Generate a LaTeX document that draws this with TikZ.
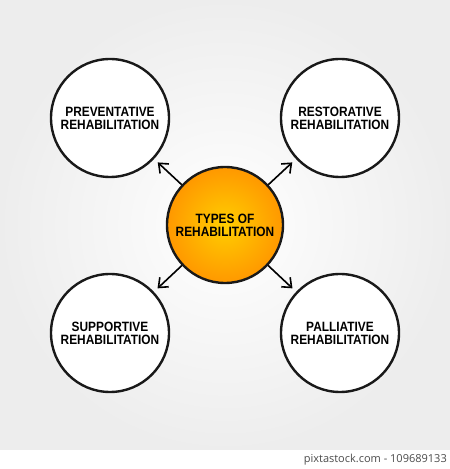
\documentclass[tikz,border=0pt]{standalone}
\usepackage{fontspec}
\usepackage{tikz}
\usetikzlibrary{arrows.meta}
\newfontfamily\handfont[FakeStretch=0.88]{Liberation Sans}
\newfontfamily\markfont{Open Sans}
\definecolor{hubin}{RGB}{255,206,0}
\definecolor{hubout}{RGB}{255,152,0}

\begin{document}
\begin{tikzpicture}[x=1pt,y=1pt]
      \tikzset{>={Straight Barb[length=8pt,width=13pt,line width=1.6pt]}}
      \tikzset{topic/.style={shape=circle,draw=black!90,line width=2.4pt,fill=white,minimum size=118pt,inner sep=0pt,align=center,font=\handfont\bfseries\fontsize{13.5}{13}\selectfont}}

      % background and bottom strip
      \useasboundingbox (0,0) rectangle (450,469);
      \fill[white] (0,0) rectangle (450,19);
      \shade[inner color=white,outer color=black!7] (0,19) rectangle (450,469);

      \node[topic,inner color=hubin,outer color=hubout,minimum size=116pt](T) at (225,244) {TYPES OF\\REHABILITATION};
      \node[topic](P) at (110,351) {PREVENTATIVE\\REHABILITATION};
      \node[topic](R) at (340,351) {RESTORATIVE\\REHABILITATION};
      \node[topic](S) at (110,136) {SUPPORTIVE\\REHABILITATION};
      \node[topic](L) at (340,136) {PALLIATIVE\\REHABILITATION};

      \draw [->,line width=1.6pt,shorten >=5pt] (T) -- (P);
      \draw [->,line width=1.6pt,shorten >=5pt] (T) -- (R);
      \draw [->,line width=1.6pt,shorten >=5pt] (T) -- (S);
      \draw [->,line width=1.6pt,shorten >=5pt] (T) -- (L);

      \node[anchor=east,text=black!70,font=\markfont\fontsize{11}{11}\selectfont,inner sep=0pt](W) at (447,9.5) {pixtastock.com - 109689133};
    \end{tikzpicture}
\end{document}
